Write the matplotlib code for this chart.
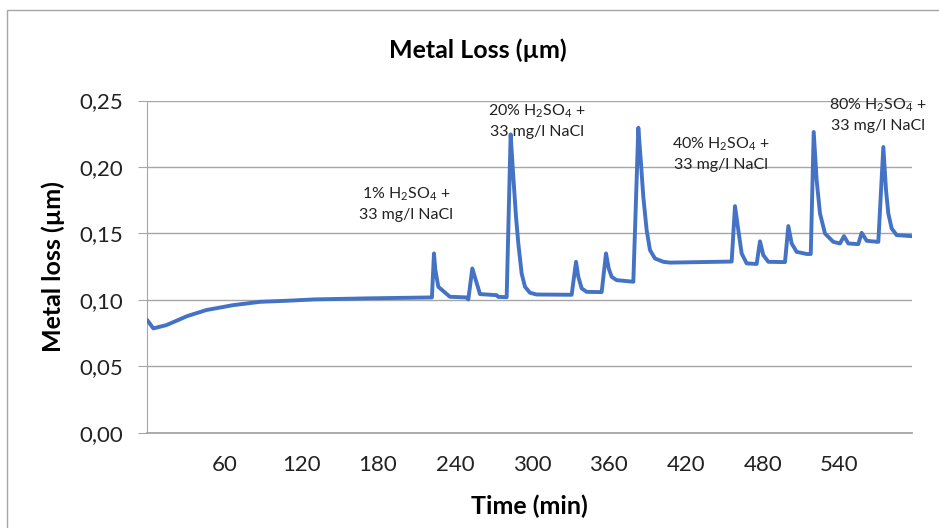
import matplotlib
matplotlib.use("Agg")
import matplotlib.pyplot as plt
from matplotlib.patches import Rectangle
from matplotlib.ticker import FuncFormatter

plt.rcParams['font.family'] = ['Lato', 'DejaVu Sans']
plt.rcParams['mathtext.fontset'] = 'custom'
plt.rcParams['mathtext.rm'] = 'Lato'

# values (time in min, metal loss in µm)
time_min = [0, 4.7, 15, 31, 46, 67, 88, 109, 130, 172, 222, 223.6, 224.7, 227,
            236, 249, 250.4, 253.5, 259.5, 272.5, 273.8, 280.3, 283.4, 285.5,
            287.6, 289.4, 292, 294.6, 298.5, 303.7, 331, 334.4, 336.2, 338.8,
            342.7, 354.4, 357.8, 359.9, 362.2, 366.1, 379.1, 383, 384.9,
            386.9, 389.5, 392.1, 396, 402.5, 407.7, 455.8, 458.4, 461, 463.6,
            467.5, 475.3, 477.9, 480.5, 484.4, 497.4, 500, 502.6, 506.5,
            514.3, 517.5, 519.8, 522.1, 524.7, 528.6, 535.1, 540.3, 543.4,
            546.8, 554.6, 557.2, 561.2, 570.2, 574.1, 576.2, 578, 580.6,
            584.5, 596.7]
metal_loss = [0.0847, 0.0785, 0.0810, 0.0877, 0.0923, 0.0960, 0.0985, 0.0993,
              0.1003, 0.1011, 0.1018, 0.1349, 0.1223, 0.1098, 0.1023, 0.1018,
              0.1003, 0.1236, 0.1043, 0.1035, 0.1022, 0.1020, 0.2245, 0.1925,
              0.1624, 0.1424, 0.1198, 0.1098, 0.1053, 0.1040, 0.1038, 0.1286,
              0.1173, 0.1086, 0.1060, 0.1058, 0.1349, 0.1236, 0.1173, 0.1148,
              0.1136, 0.2295, 0.2050, 0.1774, 0.1524, 0.1374, 0.1311, 0.1286,
              0.1280, 0.1288, 0.1705, 0.1524, 0.1349, 0.1274, 0.1270, 0.1440,
              0.1336, 0.1286, 0.1284, 0.1555, 0.1424, 0.1361, 0.1345, 0.1345,
              0.2263, 0.1900, 0.1650, 0.1499, 0.1436, 0.1424, 0.1479, 0.1424,
              0.1419, 0.1504, 0.1444, 0.1436, 0.2150, 0.1825, 0.1650, 0.1537,
              0.1487, 0.1479]

x_ticks = [60, 120, 180, 240, 300, 360, 420, 480, 540]
y_ticks = [0.00, 0.05, 0.10, 0.15, 0.20, 0.25]

solution_labels = ["1% H$_{\\mathregular{2}}$SO$_{\\mathregular{4}}$ +\n33 mg/l NaCl",
                   "20% H$_{\\mathregular{2}}$SO$_{\\mathregular{4}}$ +\n33 mg/l NaCl",
                   "40% H$_{\\mathregular{2}}$SO$_{\\mathregular{4}}$ +\n33 mg/l NaCl",
                   "80% H$_{\\mathregular{2}}$SO$_{\\mathregular{4}}$ +\n33 mg/l NaCl"]
label_pos = [(202, 0.1725), (304, 0.2351), (447.5, 0.2101), (570, 0.2393)]

grid_col = '#a6a6a6'

fig = plt.figure(figsize=(9.39, 5.28), dpi=100)
ax = fig.add_axes([147.3 / 939, 1 - 432.7 / 528, 765 / 939, 332.2 / 528])

ax.plot(time_min, metal_loss, color='#4472C4', lw=2.8,
        solid_joinstyle='round', solid_capstyle='round', zorder=3)

ax.set_xlim(0, 596.7)
ax.set_ylim(0, 0.25)
ax.set_xticks(x_ticks)
ax.set_yticks(y_ticks)
ax.yaxis.set_major_formatter(FuncFormatter(lambda v, p: f"{v:.2f}".replace('.', ',')))
ax.grid(axis='y', color=grid_col, lw=1)
ax.set_axisbelow(True)

for s in ['top', 'right']:
    ax.spines[s].set_visible(False)
ax.spines['left'].set_color(grid_col)
ax.spines['bottom'].set_color(grid_col)
ax.spines['bottom'].set_linewidth(1.3)

ax.tick_params(axis='x', length=0, pad=16, labelsize=16, labelcolor='#222222')
ax.tick_params(axis='y', length=6.5, color=grid_col, pad=11, labelsize=16,
               labelcolor='#222222')

ax.set_xlabel("Time (min)", fontsize=18, fontweight='bold', labelpad=14)
ax.set_ylabel("Metal loss (µm)", fontsize=18, fontweight='bold', labelpad=10)

for txt, (tx, ty) in zip(solution_labels, label_pos):
    ax.text(tx, ty, txt, ha='center', va='center', fontsize=11.5,
            linespacing=1.45, color='#222222', clip_on=False, zorder=4)

fig.text(478 / 939, 1 - 50 / 528, "Metal Loss (µm)", ha='center', va='center',
         fontsize=18, fontweight='bold')

fig.patches.append(Rectangle((7 / 939, -0.1), 2, 1.1 - 9.5 / 528,
                             transform=fig.transFigure, fill=False,
                             edgecolor=grid_col, lw=1))

fig.savefig("out.png", dpi=100)
